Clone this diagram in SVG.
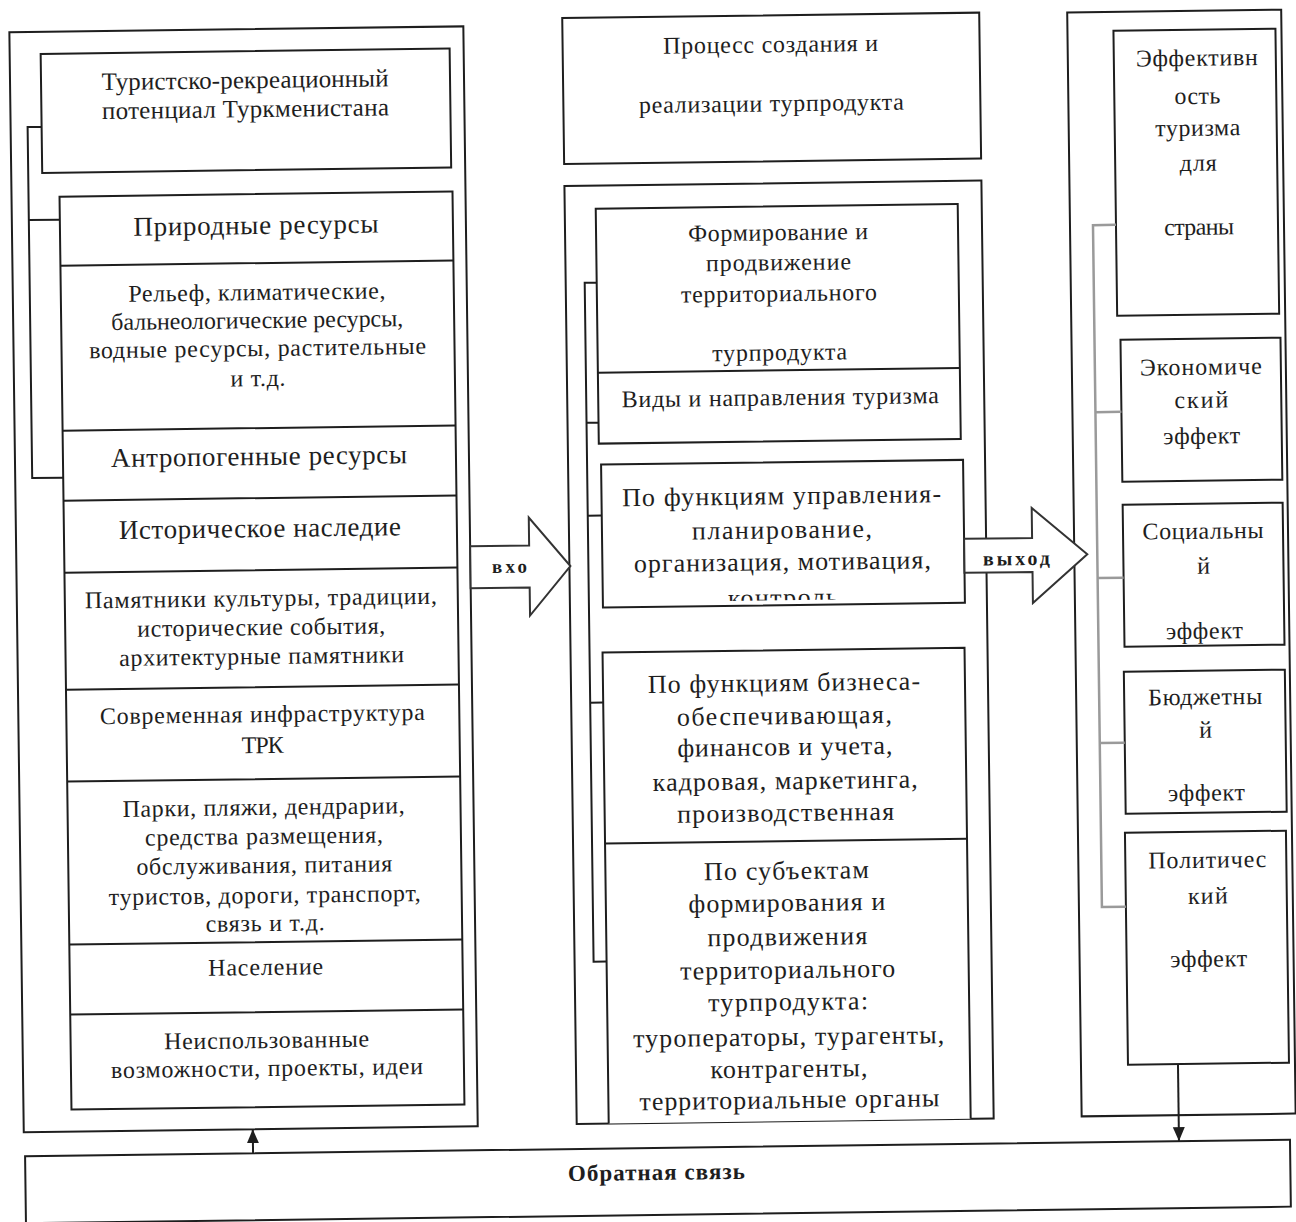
<svg xmlns="http://www.w3.org/2000/svg" width="1296" height="1222" viewBox="0 0 1296 1222">
<style>
.box{fill:#fff;stroke:#1e1e1e;stroke-width:2}
.ln{fill:none;stroke:#1e1e1e;stroke-width:2}
.gr{fill:none;stroke:#9a9a9a;stroke-width:2.5}
.t{font-family:"Liberation Serif","Times New Roman",serif;fill:#1e1e1e;text-anchor:middle;font-size:24px}
.h{font-size:27px}
.m{font-size:26px}
.s{font-size:25px}
.b{font-weight:bold}
.blk{fill:#fff;stroke:#333;stroke-width:2}
</style>
<defs>
<marker id="ah" markerUnits="userSpaceOnUse" markerWidth="14" markerHeight="16" refX="14" refY="6" orient="auto">
<path d="M0,0 L14,6 L0,12 Z" fill="#1e1e1e"/>
</marker>
<clipPath id="clipCtl"><rect x="603" y="464" width="362" height="138"/></clipPath>
</defs>
<rect width="1296" height="1222" fill="#fff"/>
<g transform="rotate(-0.75 648 611)">

<g id="left-container">
<rect class="box" x="17" y="24" width="454" height="1100"/>
</g>
<g id="left-title">
<rect class="box" x="48" y="46" width="409" height="119"/>
<text class="t s" x="252" y="83" textLength="287">Туристско-рекреационный</text>
<text class="t s" x="252" y="112" textLength="287">потенциал Туркменистана</text>
</g>
<g id="left-resources">
<rect class="box" x="65" y="189" width="393" height="913"/>
<path class="ln" d="M65,258 H458 M65,423 H458 M65,493 H458 M65,565 H458 M65,682 H458 M65,774 H458 M65,937 H458 M65,1007 H458"/>
</g>
<g id="n-prirodnye">
<text class="t h" x="261" y="229" textLength="245">Природные ресурсы</text>
</g>
<g id="n-relief">
<text class="t" x="261" y="295" textLength="257">Рельеф, климатические,</text>
<text class="t" x="261" y="323" textLength="292">бальнеологические ресурсы,</text>
<text class="t" x="261" y="351" textLength="337">водные ресурсы, растительные</text>
<text class="t" x="261" y="381" textLength="55">и т.д.</text>
</g>
<g id="n-antropogennye">
<text class="t h" x="261" y="460" textLength="296">Антропогенные ресурсы</text>
</g>
<g id="n-istoricheskoe">
<text class="t h" x="261" y="532" textLength="282">Историческое наследие</text>
</g>
<g id="n-pamyatniki">
<text class="t" x="261" y="601" textLength="352">Памятники культуры, традиции,</text>
<text class="t" x="261" y="630" textLength="248">исторические события,</text>
<text class="t" x="261" y="659" textLength="285">архитектурные памятники</text>
</g>
<g id="n-infrastruktura">
<text class="t" x="261" y="717" textLength="325">Современная инфраструктура</text>
<text class="t" x="261" y="748" textLength="42">ТРК</text>
</g>
<g id="n-parki">
<text class="t" x="261" y="810" textLength="282">Парки, пляжи, дендрарии,</text>
<text class="t" x="261" y="839" textLength="238">средства размещения,</text>
<text class="t" x="261" y="868" textLength="256">обслуживания, питания</text>
<text class="t" x="261" y="898" textLength="312">туристов, дороги, транспорт,</text>
<text class="t" x="261" y="926" textLength="119">связь и т.д.</text>
</g>
<g id="n-naselenie">
<text class="t" x="261" y="970" textLength="115">Население</text>
</g>
<g id="n-neispolzovannye">
<text class="t" x="261" y="1043" textLength="205">Неиспользованные</text>
<text class="t" x="261" y="1071" textLength="312">возможности, проекты, идеи</text>
</g>

<g id="mid-title">
<rect class="box" x="570" y="17" width="417" height="146"/>
<text class="t" x="778" y="54" textLength="215">Процесс создания и</text>
<text class="t" x="778" y="113" textLength="265">реализации турпродукта</text>
</g>
<g id="mid-container">
<rect class="box" x="570" y="185" width="417" height="938"/>
</g>
<g id="n-formirovanie">
<rect class="box" x="601" y="208" width="362" height="235"/>
<path class="ln" d="M601,372 H963"/>
<text class="t" x="783" y="242" textLength="180">Формирование и</text>
<text class="t" x="783" y="272" textLength="145">продвижение</text>
<text class="t" x="783" y="303" textLength="196">территориального</text>
<text class="t" x="783" y="362" textLength="135">турпродукта</text>
<text class="t" x="783" y="407" textLength="317">Виды и направления туризма</text>
</g>
<g id="n-upravlenie">
<rect class="box" x="603" y="464" width="362" height="143"/>
<text class="t m" x="783" y="506" textLength="319">По функциям управления-</text>
<text class="t m" x="783" y="540" textLength="180">планирование,</text>
<text class="t m" x="783" y="572" textLength="297">организация, мотивация,</text>
<text class="t m" x="783" y="608" textLength="110" clip-path="url(#clipCtl)">контроль</text>
</g>
<g id="n-biznes">
<path class="box" d="M602,1123 V652 H964 V1123"/>
<path class="ln" d="M602,843 H964"/>
<text class="t m" x="783" y="693" textLength="272">По функциям бизнеса-</text>
<text class="t m" x="783" y="726" textLength="215">обеспечивающая,</text>
<text class="t m" x="783" y="757" textLength="215">финансов и учета,</text>
<text class="t m" x="783" y="791" textLength="265">кадровая, маркетинга,</text>
<text class="t m" x="783" y="823" textLength="217">производственная</text>
</g>
<g id="n-subekty">
<text class="t m" x="783" y="881" textLength="165">По субъектам</text>
<text class="t m" x="783" y="913" textLength="197">формирования и</text>
<text class="t m" x="783" y="947" textLength="160">продвижения</text>
<text class="t m" x="783" y="980" textLength="215">территориального</text>
<text class="t m" x="783" y="1012" textLength="160">турпродукта:</text>
<text class="t m" x="783" y="1047" textLength="311">туроператоры, турагенты,</text>
<text class="t m" x="783" y="1079" textLength="157">контрагенты,</text>
<text class="t m" x="783" y="1110" textLength="300">территориальные органы</text>
</g>

<g id="right-container">
<rect class="box" x="1075" y="18" width="214" height="1104"/>
</g>
<g id="n-effektivnost">
<rect class="box" x="1121" y="37" width="162" height="285"/>
<text class="t" x="1204" y="73" textLength="122">Эффективн</text>
<text class="t" x="1204" y="111" textLength="46">ость</text>
<text class="t" x="1204" y="143" textLength="85">туризма</text>
<text class="t" x="1204" y="178" textLength="37">для</text>
<text class="t" x="1204" y="242" textLength="70">страны</text>
</g>
<g id="n-ekonomicheskiy">
<rect class="box" x="1124" y="346" width="160" height="142"/>
<text class="t" x="1204" y="382" textLength="122">Экономиче</text>
<text class="t" x="1204" y="415" textLength="54">ский</text>
<text class="t" x="1204" y="451" textLength="77">эффект</text>
</g>
<g id="n-socialnyy">
<rect class="box" x="1124" y="511" width="160" height="142"/>
<text class="t" x="1204" y="546" textLength="121">Социальны</text>
<text class="t" x="1204" y="581">й</text>
<text class="t" x="1204" y="646" textLength="77">эффект</text>
</g>
<g id="n-byudzhetnyy">
<rect class="box" x="1123" y="678" width="161" height="142"/>
<text class="t" x="1204" y="712" textLength="114">Бюджетны</text>
<text class="t" x="1204" y="745">й</text>
<text class="t" x="1204" y="808" textLength="77">эффект</text>
</g>
<g id="n-politicheskiy">
<rect class="box" x="1122" y="839" width="161" height="232"/>
<text class="t" x="1204" y="875" textLength="118">Политичес</text>
<text class="t" x="1204" y="911" textLength="40">кий</text>
<text class="t" x="1204" y="974" textLength="77">эффект</text>
</g>

<g id="n-feedback">
<rect class="box" x="18" y="1148" width="1265" height="67"/>
<text class="t b" style="font-size:23px" x="649" y="1180" textLength="177">Обратная связь</text>
</g>

<g id="connectors">
<path class="ln" d="M48,119 H34 V470 H65 M34,212 H65"/>
<path class="ln" d="M601,282 H589 V961 H602 M589,422 H601 M589,515 H603 M589,702 H602"/>
<path class="gr" d="M1121,231 H1098 V913 H1122 M1098,418 H1124 M1098,584 H1124 M1098,749 H1123"/>
<polygon class="blk" points="471,544 530,544 530,516 571,565 530,614 530,586 471,586"/>
<text class="t b" style="font-size:19px" x="510" y="571" textLength="35">вхо</text>
<polygon class="blk" points="965,543 1033,543 1033,513 1088,560 1033,608 1033,577 965,577"/>
<text class="t b" style="font-size:20px" x="1017" y="570" textLength="67">выход</text>
<line class="ln" x1="246" y1="1148" x2="246" y2="1124" marker-end="url(#ah)"/>
<line class="ln" x1="1172" y1="1071" x2="1172" y2="1148" marker-end="url(#ah)"/>
</g>
</g>
</svg>
